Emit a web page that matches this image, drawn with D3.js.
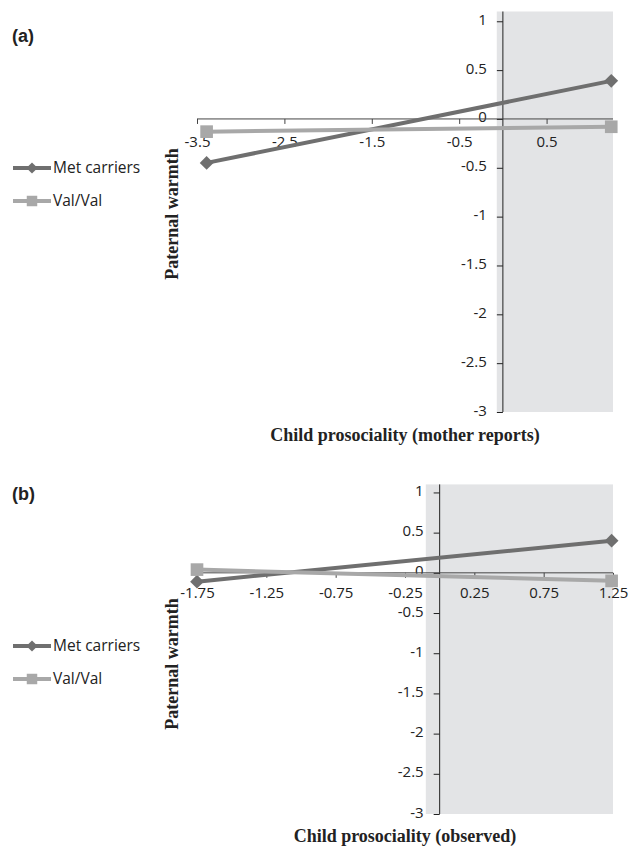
<!DOCTYPE html>
<html>
<head>
<meta charset="utf-8">
<script src="https://cdn.jsdelivr.net/npm/d3@7"></script>
<style>
  body { margin: 0; background: #fff; }
  .tick text { font-family: "Open Sans", sans-serif; font-size: 15px; fill: #222; }
  .ttl { font-family: "Liberation Serif", serif; font-weight: bold; font-size: 18px; fill: #222; }
  .lab { font-family: "Liberation Sans", Arial, sans-serif; font-weight: bold; font-size: 18px; fill: #222; }
  .leg { font-family: "Open Sans", sans-serif; font-size: 15.5px; fill: #222; }
</style>
</head>
<body>
<svg id="chart" width="640" height="846"></svg>
<script>
// series names
const seriesNames = ["Met carriers", "Val/Val"];

// panel (a): child prosociality, mother reports
const xA = [-3.39, 1.24];
const metA = [-0.45, 0.39];
const valA = [-0.13, -0.08];
const xTicksA = [-3.5, -2.5, -1.5, -0.5, 0.5];

// panel (b): child prosociality, observed
const xB = [-1.75, 1.24];
const metB = [-0.11, 0.40];
const valB = [0.04, -0.10];
const xTicksB = [-1.75, -1.25, -0.75, -0.25, 0.25, 0.75, 1.25];

const yTicks = [1, 0.5, 0, -0.5, -1, -1.5, -2, -2.5, -3];

const darkCol = "#6f6f6f", lightCol = "#a8a8a8", shadeCol = "#e3e4e6";

const svg = d3.select("#chart");

function panel(o){
    let g = svg.append("g");
    let x = d3.scaleLinear().domain(o.xDom).range([197, 613]);
    let y = d3.scaleLinear().domain([-3, 1.1]).range([o.bottom, o.top]);

    // grey area
    g.append("rect")
        .attr("x", x(o.shadeFrom)).attr("y", y(1.1))
        .attr("width", x(o.xDom[1]) - x(o.shadeFrom))
        .attr("height", y(-3) - y(1.1))
        .attr("fill", shadeCol);

    // y axis at x = 0
    let yAx = g.append("g")
        .attr("transform", "translate(" + x(0) + ",0)")
        .call(d3.axisLeft(y).tickValues(yTicks).tickSize(6).tickPadding(10)
            .tickFormat(d => String(d)));
    yAx.select(".domain").attr("d", "M0," + y(1.1) + "V" + y(-3)).attr("stroke", "#222");
    yAx.selectAll(".tick line").attr("stroke", "#222");
    yAx.selectAll(".tick text").attr("dy", "0.2em");

    // x axis at y = 0
    let xAx = g.append("g")
        .attr("transform", "translate(0," + y(0) + ")")
        .call(d3.axisBottom(x).tickValues(o.xTicks).tickSize(5).tickPadding(o.xPad)
            .tickFormat(d => String(d)));
    xAx.select(".domain").attr("d", "M" + x(o.xDom[0]) + ",0H" + x(o.xDom[1])).attr("stroke", "#444");
    xAx.selectAll(".tick line").attr("stroke", "#444");

    let line = d3.line().x(d => x(d[0])).y(d => y(d[1]));
    let series = [
        {vals: o.met, col: darkCol, shape: d3.symbolDiamond2},
        {vals: o.val, col: lightCol, shape: d3.symbolSquare}
    ];
    series.forEach(s => {
        let pts = o.xs.map((v, i) => [v, s.vals[i]]);
        g.append("path").attr("d", line(pts))
            .attr("fill", "none").attr("stroke", s.col).attr("stroke-width", 4);
        g.selectAll(null).data(pts).enter().append("path")
            .attr("d", d3.symbol().type(s.shape).size(s.shape === d3.symbolSquare ? 160 : 120))
            .attr("transform", d => "translate(" + x(d[0]) + "," + y(d[1]) + ")")
            .attr("fill", s.col);
    });

    // legend
    series.forEach((s, i) => {
        let ly = o.legY + i * 33;
        g.append("line").attr("x1", 13).attr("x2", 51).attr("y1", ly).attr("y2", ly)
            .attr("stroke", s.col).attr("stroke-width", 4);
        g.append("path")
            .attr("d", d3.symbol().type(s.shape).size(s.shape === d3.symbolSquare ? 110 : 80))
            .attr("transform", "translate(32," + ly + ")")
            .attr("fill", s.col);
        g.append("text").attr("class", "leg").attr("x", 53).attr("y", ly + 5)
            .text(seriesNames[i]);
    });

    g.append("text").attr("class", "ttl")
        .attr("transform", "translate(178," + o.yTitleY + ") rotate(-90)")
        .attr("text-anchor", "middle").text("Paternal warmth");
    g.append("text").attr("class", "ttl").attr("x", 405).attr("y", o.xTitleY)
        .attr("text-anchor", "middle").text(o.xTitle);
    g.append("text").attr("class", "lab").attr("x", 12).attr("y", o.labY).text(o.label);
}

panel({xDom: [-3.5, 1.26], xs: xA, met: metA, val: valA, xTicks: xTicksA, xPad: 12,
    top: 11.5, bottom: 412, shadeFrom: -0.07, legY: 168, yTitleY: 214,
    xTitleY: 441, xTitle: "Child prosociality (mother reports)", label: "(a)", labY: 42});
panel({xDom: [-1.75, 1.25], xs: xB, met: metB, val: valB, xTicks: xTicksB, xPad: 10,
    top: 484.4, bottom: 814, shadeFrom: -0.10, legY: 646, yTitleY: 664,
    xTitleY: 842, xTitle: "Child prosociality (observed)", label: "(b)", labY: 500});
</script>
</body>
</html>
